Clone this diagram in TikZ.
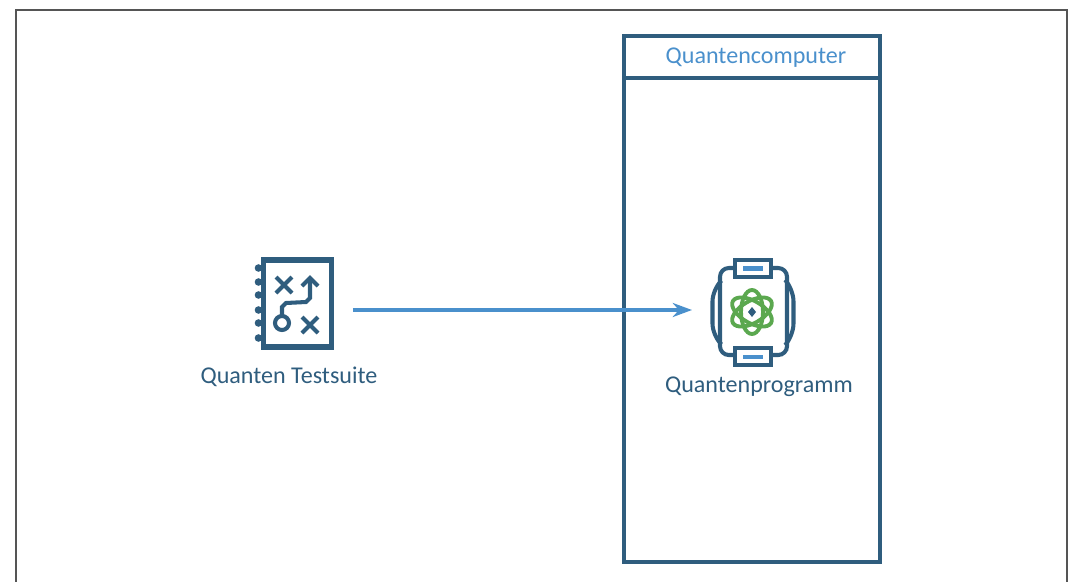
\documentclass[tikz,border=0pt]{standalone}
\usepackage{fontspec}
\setmainfont{Carlito}
\usepackage{xcolor}
\usetikzlibrary{calc,arrows.meta,positioning}
\definecolor{darkblue}{HTML}{2F5D7E}
\definecolor{lightblue}{HTML}{4A90CC}
\definecolor{atomgreen}{HTML}{5BA84F}
\definecolor{framegray}{HTML}{555555}
\tikzset{
  boxstyle/.style={draw=darkblue, line width=2.4pt, rectangle, outer sep=0pt, inner sep=0pt},
  spotstyle/.style={rectangle, outer sep=0pt, minimum width=2.4cm, minimum height=1.2cm},
  iconline/.style={draw=darkblue, line width=2.3pt},
  labeltext/.style={text=darkblue, font=\fontsize{13.7}{15}\selectfont, inner sep=0pt},
  headtext/.style={text=lightblue, font=\fontsize{13.7}{15}\selectfont, inner sep=0pt}
}

\begin{document}
\begin{tikzpicture}[x=0.02cm, y=-0.02cm]
  \useasboundingbox (0,0) rectangle (1073,582);

  % outer frame
  \draw[framegray, line width=1.1pt] (16,582) -- (16,10) -- (1067,10) -- (1067,582);

  % quantum computer box
  \node[boxstyle, minimum width=5.12cm, minimum height=10.52cm] (computer) at (752,299) {};
  \node[boxstyle, minimum width=5.12cm, minimum height=0.84cm, below=0pt of computer.north] (computerhead) {};
  \node[headtext] (computerlabel) at (756,58) {Quantencomputer};

  % places of the two icons
  \node[spotstyle] (suite) at (293,310) {};
  \node[spotstyle] (program) at (752,310) {};

  % test suite icon
  \draw[iconline] (263.5,259.5) rectangle (331.5,347.5);
  \draw[darkblue, line width=3.2pt] (261,260) -- (333,260) (261,347) -- (333,347);
  \foreach \ringy in {268,282,295,310,323,338}
    \fill[darkblue] (258.5,\ringy) circle (3.8);
  \draw[iconline] (276,277) -- (292,293) (292,277) -- (276,293);
  \draw[iconline] (302,317) -- (318,333) (318,317) -- (302,333);
  \draw[iconline] (282,323) circle (7);
  \draw[iconline] (282,316) -- (282,307) -- (286,303) -- (306,302) -- (310,298) -- (310,278);
  \draw[iconline] (302,286) -- (310,278) -- (318,286);

  % quantum program icon
  \draw[iconline, rounded corners=5] (720,268) rectangle (787,355);
  \draw[iconline, fill=white] (735,260) rectangle (771,277);
  \draw[iconline, fill=white] (735,348) rectangle (771,365);
  \draw[lightblue, line width=2.4pt] (743,268.5) -- (763,268.5) (743,357) -- (763,357);
  \draw[iconline, rounded corners=7] (720,282) -- (712.5,289) -- (712.5,336) -- (720,343);
  \draw[iconline, rounded corners=7] (787,282) -- (793.5,289) -- (793.5,336) -- (787,343);
  \foreach \orbit in {30,90,150}
    \draw[atomgreen, line width=2.2pt, rotate around={\orbit:(752,312)}] (752,312) ellipse (22 and 11);
  \fill[darkblue] (752,307) -- (756,312) -- (752,317) -- (748,312) -- cycle;

  % labels
  \node[labeltext] (suitelabel) at (289,376.5) {Quanten Testsuite};
  \node[labeltext] (programlabel) at (759,386.5) {Quantenprogramm};

  % call of the program
  \draw[-{Stealth[length=11pt,width=8pt]}, lightblue, line width=2.2pt] (suite.east) -- (program.west);
\end{tikzpicture}
\end{document}
